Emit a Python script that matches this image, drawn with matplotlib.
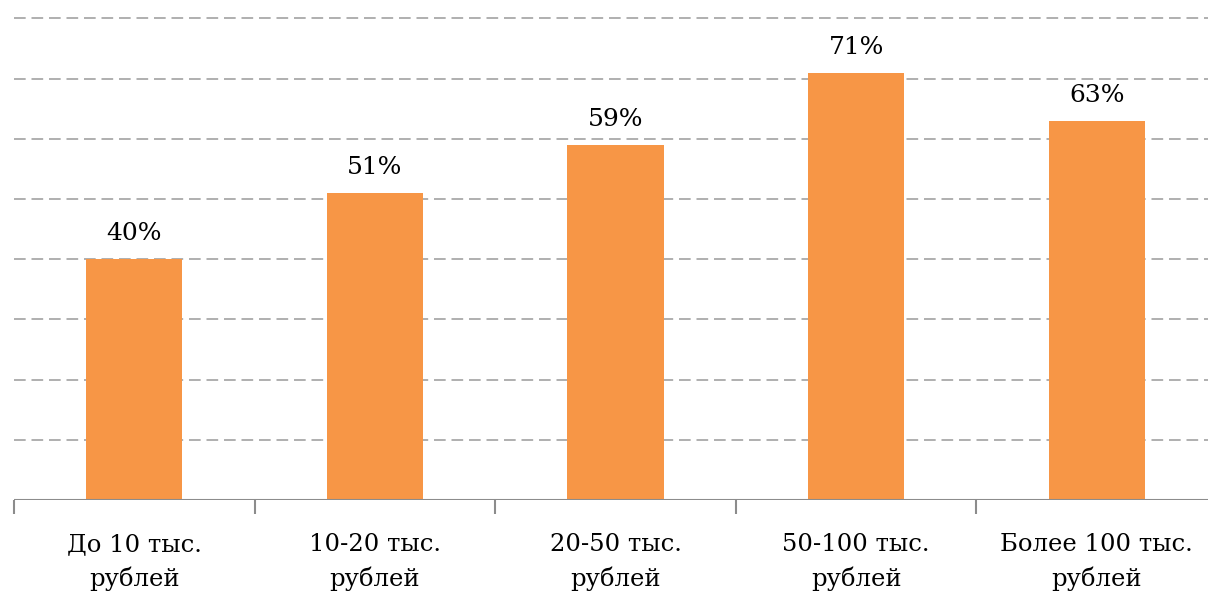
import matplotlib.pyplot as plt

categories = ['До 10 тыс.\nрублей', '10-20 тыс.\nрублей', '20-50 тыс.\nрублей',
              '50-100 тыс.\nрублей', 'Более 100 тыс.\nрублей']
values = [40, 51, 59, 71, 63]

bar_color = '#F79646'
grid_color = '#AFAFAF'
axis_color = '#8C8C8C'

plt.rcParams['font.family'] = ['DejaVu Serif']

fig = plt.figure(figsize=(12.08, 5.92), dpi=100, facecolor='white')
ax = fig.add_axes([14 / 1208, 92 / 592, 1203 / 1208, 500 / 592], frameon=False)

x = range(len(categories))
bars = ax.bar(x, values, width=0.4, color=bar_color, zorder=3)

for b, v in zip(bars, values):
    ax.annotate('%d%%' % v, (b.get_x() + b.get_width() / 2, v),
                xytext=(0, 10), textcoords='offset points',
                ha='center', va='bottom', fontsize=18, color='black')

ax.set_xlim(-0.5, 4.5)
ax.set_ylim(0, 83.06)
ax.set_yticks(range(10, 81, 10))
ax.yaxis.grid(True, color=grid_color, linestyle=(0, (6, 3)), linewidth=1.4, zorder=0)
ax.tick_params(axis='y', left=False, labelleft=False)

# baseline with ticks between categories
ax.axhline(0, color=axis_color, linewidth=1.5, zorder=4)
ax.set_xticks([i - 0.5 for i in range(len(categories) + 1)], minor=False)
ax.set_xticks(list(x), minor=True)
ax.tick_params(axis='x', which='major', length=10, width=1.5, color=axis_color,
               labelbottom=False)
ax.tick_params(axis='x', which='minor', length=0, pad=24)
ax.set_xticklabels(categories, minor=True, fontsize=17.5, color='black',
                   linespacing=1.5)

fig.savefig('out.png', dpi=100, facecolor='white')
